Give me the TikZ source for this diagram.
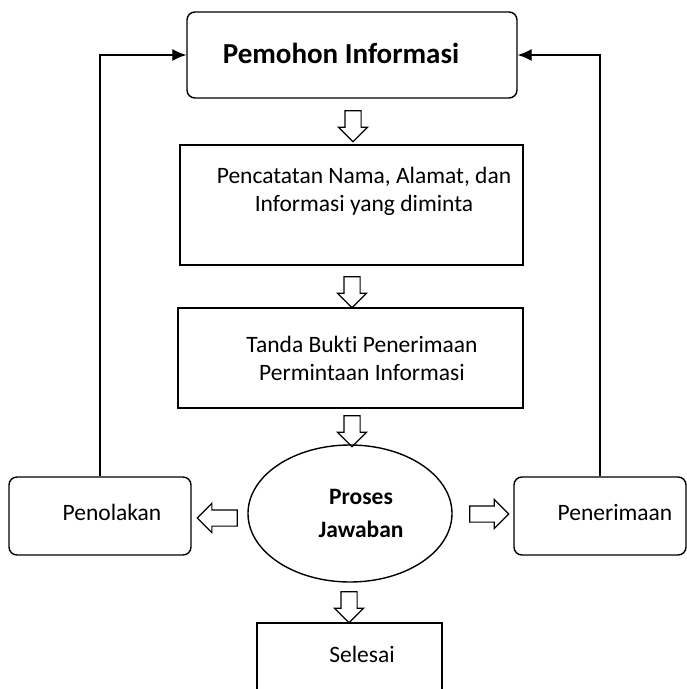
\documentclass[tikz,border=0pt]{standalone}
\usepackage{fontspec}
\setmainfont[Ligatures=NoCommon]{Carlito}
\usetikzlibrary{shapes.geometric,shapes.arrows,arrows.meta}
\tikzstyle{kotak}=[draw, line width=1.4pt, inner sep=0pt,
	minimum width=343pt, minimum height=120pt]
\tikzstyle{myNode} = [kotak, rounded corners=8pt]
\tikzstyle{bulat} = [kotak, ellipse, minimum width=204pt, minimum height=137pt]
\tikzstyle{teks} = [font=\fontsize{23.5}{28}\selectfont, align=center, inner sep=0pt]
\tikzstyle{panah} = [draw, line width=1.2pt, single arrow, inner sep=7.5pt,
	single arrow head extend=6.5pt, minimum height=31pt]
\tikzstyle{line} = [draw, line width=1.2pt, -{Latex[length=14pt,width=12pt]}]
\newcommand{\myBox}[5]{node (p#1) [#2] {}
	node (t#1) [teks, xshift=#3, yshift=#4] {#5}}

\begin{document}
\begin{tikzpicture}[x=1pt, y=-1pt]
	\useasboundingbox (0,0) rectangle (687,689);
	\clip (0,0) rectangle (687,689);

	\path (352,55) \myBox{1}{myNode, minimum width=330pt, minimum height=86pt}{-11}{2}
		{\fontsize{29}{34}\selectfont\bfseries Pemohon Informasi};
	\path (351.5,205) \myBox{2}{kotak}{12.5}{14}{Pencatatan Nama, Alamat, dan\\ Informasi yang diminta};
	\path (350.5,358) \myBox{3}{kotak, minimum width=345pt, minimum height=100pt}{11.5}{0}
		{Tanda Bukti Penerimaan\\ Permintaan Informasi};
	\path (350,513.5) \myBox{4}{bulat}{11}{0}{\bfseries Proses\\[5pt] \bfseries Jawaban};
	\path (100,516) \myBox{5}{myNode, minimum width=182pt, minimum height=78pt}{12}{4}{Penolakan};
	\path (600,516) \myBox{6}{myNode, minimum width=172pt, minimum height=78pt}{15}{4}{Penerimaan};
	\path (349.5,662) \myBox{7}{kotak, minimum width=185pt, minimum height=78pt}{12.5}{8}{Selesai};

	% Hollow arrows between the steps
	\path (p1.south)+( 1.0,23.5) node (a1) [panah, shape border rotate=270] {};
	\path (p2.south)+( 0.5,22.5) node (a2) [panah, shape border rotate=270] {};
	\path (p3.south)+( 1.5,18.5) node (a3) [panah, shape border rotate=270] {};
	\path (p4.south)+(-1.0,20.5) node (a4) [panah, shape border rotate=270] {};
	\path (p4.west)+(-26.0,4.5) node (a5) [panah, shape border rotate=180, minimum height=40pt] {};
	\path (p4.east)+(32.5,0.5) node (a6) [panah, minimum height=39pt] {};

	% Draw arrows back to the applicant
	\path [line] (p5.north) |- (p1.west);
	\path [line] (p6.north) |- (p1.east);

\end{tikzpicture}
\end{document}
